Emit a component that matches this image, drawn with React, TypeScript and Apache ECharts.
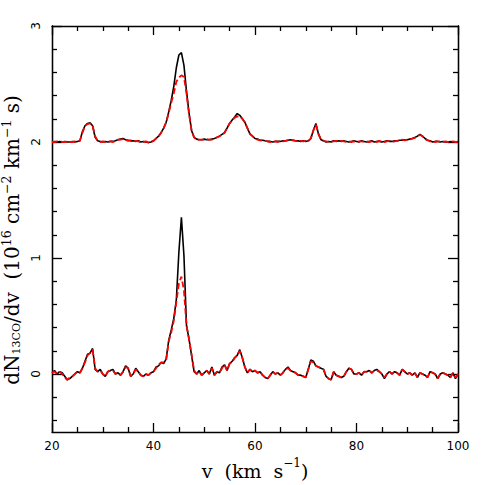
import React, { useEffect, useRef } from "react";
import * as echarts from "echarts";

// Velocity channel grid (km/s)
const vStart = 20;
const channelWidth = 0.5;

// Lower spectrum (offset 0)
const lowerBlack = [
  0.01, 0.03, 0.0, 0.02, 0.01, -0.02, -0.05, -0.04, -0.02, 0.0,
  0.02, 0.01, 0.05, 0.11, 0.17, 0.18, 0.22, 0.04, 0.02, 0.04,
  0.0, -0.02, 0.02, 0.03, 0.04, 0.0, 0.01, -0.01, 0.02, 0.07,
  0.05, -0.02, 0.0, 0.05, 0.02, -0.01, -0.02, 0.0, -0.01, 0.01,
  0.02, 0.06, 0.07, 0.1, 0.09, 0.13, 0.29, 0.38, 0.48, 0.64,
  1.05, 1.35, 1.02, 0.42, 0.3, 0.16, 0.02, 0.0, 0.03, -0.01,
  0.01, 0.03, 0.0, 0.06, -0.01, 0.02, 0.01, 0.06, 0.08, 0.03,
  0.09, 0.11, 0.14, 0.16, 0.21, 0.14, 0.06, 0.01, 0.04, 0.02,
  0.03, 0.01, 0.02, -0.01, -0.03, -0.04, -0.01, 0.02, 0.0, 0.01,
  -0.01, 0.01, 0.04, 0.06, 0.03, 0.02, 0.01, -0.01, -0.01, -0.02,
  -0.03, 0.04, 0.12, 0.11, 0.07, 0.06, 0.05, 0.04, -0.02, -0.04,
  -0.05, 0.02, -0.01, -0.02, -0.03, -0.02, 0.02, 0.05, 0.04, 0.0,
  0.0, 0.01, -0.01, 0.02, 0.02, 0.03, 0.01, 0.03, 0.04, 0.02,
  0.0, -0.04, 0.0, 0.02, 0.0, 0.02, 0.01, -0.01, 0.04, 0.02,
  0.0, 0.01, -0.01, 0.01, -0.03, 0.01, 0.0, -0.01, -0.03, 0.02,
  0.01, 0.0, -0.04, 0.0, 0.01, 0.0, -0.01, -0.03, 0.01, -0.04,
  0.0,
];

const lowerRed = [
  0.01, 0.02, 0.0, 0.02, 0.0, -0.03, -0.05, -0.03, -0.02, 0.0,
  0.02, 0.01, 0.05, 0.1, 0.16, 0.18, 0.21, 0.05, 0.02, 0.03,
  0.0, -0.02, 0.02, 0.03, 0.03, 0.0, 0.01, -0.01, 0.02, 0.06,
  0.05, -0.02, 0.0, 0.04, 0.02, -0.01, -0.02, 0.0, -0.01, 0.01,
  0.02, 0.05, 0.08, 0.1, 0.1, 0.12, 0.28, 0.36, 0.46, 0.62,
  0.78, 0.84, 0.72, 0.42, 0.3, 0.17, 0.03, 0.0, 0.02, -0.01,
  0.01, 0.03, 0.0, 0.05, -0.01, 0.02, 0.01, 0.05, 0.08, 0.03,
  0.09, 0.1, 0.14, 0.16, 0.2, 0.14, 0.06, 0.01, 0.04, 0.02,
  0.03, 0.01, 0.02, -0.01, -0.03, -0.04, -0.01, 0.02, 0.0, 0.01,
  -0.01, 0.01, 0.04, 0.05, 0.03, 0.02, 0.01, -0.01, -0.01, -0.02,
  -0.03, 0.04, 0.11, 0.1, 0.07, 0.06, 0.05, 0.04, -0.02, -0.04,
  -0.05, 0.02, -0.01, -0.02, -0.03, -0.02, 0.02, 0.05, 0.04, 0.0,
  0.0, 0.01, -0.01, 0.02, 0.02, 0.03, 0.01, 0.03, 0.03, 0.02,
  0.0, -0.03, 0.0, 0.02, 0.0, 0.02, 0.01, -0.01, 0.04, 0.02,
  0.0, 0.01, -0.01, 0.01, -0.03, 0.01, 0.0, -0.01, -0.03, 0.02,
  0.01, 0.0, -0.04, 0.0, 0.01, 0.0, -0.01, -0.03, 0.01, -0.03,
  0.0,
];

// Upper spectrum (plotted with an offset of 2)
const upperOffset = 2;
const upperBlack = [
  0.0, 0.005, 0.0, 0.005, 0.0, 0.005, 0.0, 0.0, 0.005, 0.0,
  0.005, 0.01, 0.09, 0.14, 0.16, 0.165, 0.14, 0.04, 0.01, 0.005,
  0.0, 0.005, 0.0, 0.005, 0.005, 0.01, 0.02, 0.025, 0.03, 0.02,
  0.015, 0.01, 0.01, 0.005, 0.01, 0.0, 0.005, 0.0, -0.005, 0.0,
  0.01, 0.03, 0.05, 0.08, 0.12, 0.17, 0.26, 0.36, 0.48, 0.64,
  0.75, 0.77, 0.66, 0.44, 0.25, 0.1, 0.04, 0.025, 0.02, 0.02,
  0.025, 0.02, 0.02, 0.025, 0.03, 0.04, 0.05, 0.065, 0.08, 0.12,
  0.16, 0.19, 0.215, 0.245, 0.23, 0.2, 0.17, 0.12, 0.07, 0.05,
  0.03, 0.025, 0.015, 0.015, 0.01, 0.005, 0.005, 0.0, 0.005, 0.005,
  0.005, 0.01, 0.01, 0.015, 0.02, 0.015, 0.01, 0.01, 0.005, 0.01,
  0.005, 0.01, 0.03, 0.1, 0.16, 0.07, 0.02, 0.01, 0.0, 0.005,
  0.0, 0.01, 0.005, 0.01, 0.005, 0.01, 0.005, 0.0, 0.005, 0.01,
  0.005, 0.0, 0.01, 0.005, 0.0, 0.005, 0.01, 0.0, 0.005, 0.005,
  0.0, 0.005, 0.01, 0.005, 0.005, 0.01, 0.01, 0.015, 0.015, 0.02,
  0.02, 0.025, 0.03, 0.04, 0.05, 0.065, 0.05, 0.03, 0.015, 0.01,
  0.0, 0.005, 0.005, 0.0, 0.005, 0.0, 0.0, 0.005, 0.0, 0.0,
  0.005,
];

const upperRed = [
  0.0, 0.0, 0.005, 0.005, 0.0, 0.0, 0.005, 0.0, 0.0, 0.005,
  0.0, 0.01, 0.08, 0.14, 0.155, 0.16, 0.14, 0.05, 0.01, 0.0,
  0.005, 0.0, 0.005, 0.005, 0.0, 0.01, 0.02, 0.02, 0.025, 0.02,
  0.01, 0.015, 0.005, 0.01, 0.005, 0.0, 0.0, 0.005, -0.005, 0.0,
  0.01, 0.03, 0.05, 0.08, 0.12, 0.17, 0.25, 0.34, 0.42, 0.52,
  0.555, 0.575, 0.56, 0.42, 0.24, 0.1, 0.04, 0.02, 0.02, 0.02,
  0.02, 0.025, 0.02, 0.02, 0.03, 0.04, 0.05, 0.06, 0.08, 0.12,
  0.16, 0.19, 0.21, 0.22, 0.22, 0.2, 0.17, 0.12, 0.07, 0.05,
  0.03, 0.02, 0.015, 0.01, 0.01, 0.005, 0.0, 0.005, 0.005, 0.0,
  0.01, 0.005, 0.01, 0.015, 0.015, 0.015, 0.01, 0.005, 0.01, 0.005,
  0.01, 0.005, 0.03, 0.1, 0.15, 0.07, 0.02, 0.01, 0.005, 0.0,
  0.005, 0.005, 0.01, 0.005, 0.01, 0.005, 0.0, 0.005, 0.0, 0.005,
  0.0, 0.005, 0.005, 0.0, 0.005, 0.0, 0.005, 0.005, 0.0, 0.01,
  0.005, 0.0, 0.005, 0.01, 0.0, 0.005, 0.01, 0.01, 0.02, 0.015,
  0.02, 0.02, 0.03, 0.035, 0.05, 0.06, 0.05, 0.025, 0.015, 0.005,
  0.005, 0.0, 0.005, 0.005, 0.0, 0.005, 0.0, 0.0, 0.005, 0.0,
  0.0,
];

// Axis ticks
const xMin = 20;
const xMax = 100;
const xInterval = 20;
const yMin = -0.5;
const yMax = 3;
const yMajorTicks = [0, 1, 2, 3];
const yMinorTicks = [-0.4, -0.2, 0.2, 0.4, 0.6, 0.8, 1.2, 1.4, 1.6, 1.8, 2.2, 2.4, 2.6, 2.8];

const toPairs = (vals: number[], offset: number) =>
  vals.map((y, i) => [vStart + i * channelWidth, y + offset]);

const App: React.FC = () => {
  const ref = useRef<HTMLDivElement>(null);

  useEffect(() => {
    if (!ref.current) return;
    const chart = echarts.init(ref.current, undefined, { renderer: "svg" });
    const axisLine = { show: true, onZero: false, lineStyle: { color: "#000", width: 1.3 } };
    const labelFont = { fontFamily: "DejaVu Sans", fontSize: 12, color: "#000" };
    const serif = "DejaVu Serif";
    const richX = {
      t: { fontFamily: serif, fontSize: 19, lineHeight: 24, color: "#000", verticalAlign: "bottom" },
      p: { fontFamily: serif, fontSize: 12, lineHeight: 12, color: "#000", verticalAlign: "top" },
    };
    const richY = {
      t: { fontFamily: serif, fontSize: 20, lineHeight: 22, color: "#000", verticalAlign: "bottom" },
      s: { fontFamily: serif, fontSize: 11, lineHeight: 14, color: "#000", verticalAlign: "bottom" },
      p: { fontFamily: serif, fontSize: 12.5, lineHeight: 12, color: "#000", verticalAlign: "top" },
      g: { width: 22, lineHeight: 22 },
    };

    const baseX = {
      type: "value" as const,
      min: xMin,
      max: xMax,
      interval: xInterval,
      axisLine,
      splitLine: { show: false },
      axisTick: { show: true, inside: true, length: 9, lineStyle: { color: "#000", width: 1.3 } },
      minorTick: { show: true, splitNumber: 4, length: 5, lineStyle: { color: "#000", width: 1.3 } },
      minorSplitLine: { show: false },
    };

    const baseY = (position: "left" | "right", ticks: number[], len: number, labels: boolean) => ({
      type: "value" as const,
      position,
      min: yMin,
      max: yMax,
      axisLine,
      splitLine: { show: false },
      axisTick: {
        show: true,
        inside: true,
        length: len,
        customValues: ticks,
        lineStyle: { color: "#000", width: 1.3 },
      },
      axisLabel: labels
        ? { show: true, customValues: yMajorTicks, rotate: 90, margin: 10, ...labelFont }
        : { show: false },
    });

    chart.setOption({
      animation: false,
      backgroundColor: "#fff",
      grid: {
        left: 52,
        right: 27,
        top: 26,
        bottom: 53,
        containLabel: false,
        outerBoundsMode: "none",
      },
      xAxis: [
        {
          ...baseX,
          position: "bottom",
          axisLabel: { show: true, margin: 8, ...labelFont },
          name: "{t|v  (km  s}{p|−1}{t|)}",
          nameLocation: "middle",
          nameGap: 21,
          nameTextStyle: { color: "#000", rich: richX },
        },
        { ...baseX, position: "top", axisLabel: { show: false } },
      ],
      yAxis: [
        {
          ...baseY("left", yMajorTicks, 10, true),
          name: "{t|dN}{s|13CO}{t|/dv  (10}{p|16}{t| cm}{p|−2}{t| km}{p|−1}{t| s)}{g| }",
          nameLocation: "middle",
          nameRotate: 90,
          nameGap: 10,
          nameTextStyle: { color: "#000", rich: richY },
        },
        baseY("left", yMinorTicks, 5, false),
        baseY("right", yMajorTicks, 10, false),
        baseY("right", yMinorTicks, 5, false),
      ],
      series: [
        {
          type: "line",
          data: toPairs(lowerBlack, 0),
          showSymbol: false,
          lineStyle: { color: "#000", width: 1.6 },
          z: 2,
        },
        {
          type: "line",
          data: toPairs(lowerRed, 0),
          showSymbol: false,
          lineStyle: { color: "#ff0000", width: 1.8, type: [6, 3] },
          z: 3,
        },
        {
          type: "line",
          data: toPairs(upperBlack, upperOffset),
          showSymbol: false,
          lineStyle: { color: "#000", width: 1.6 },
          z: 2,
        },
        {
          type: "line",
          data: toPairs(upperRed, upperOffset),
          showSymbol: false,
          lineStyle: { color: "#ff0000", width: 1.8, type: [6, 3] },
          z: 3,
        },
      ],
    });
    return () => chart.dispose();
  }, []);

  return (
    <div
      ref={ref}
      style={{ position: "fixed", left: 0, top: 0, width: 485, height: 485, background: "#fff" }}
    />
  );
};

export default App;
